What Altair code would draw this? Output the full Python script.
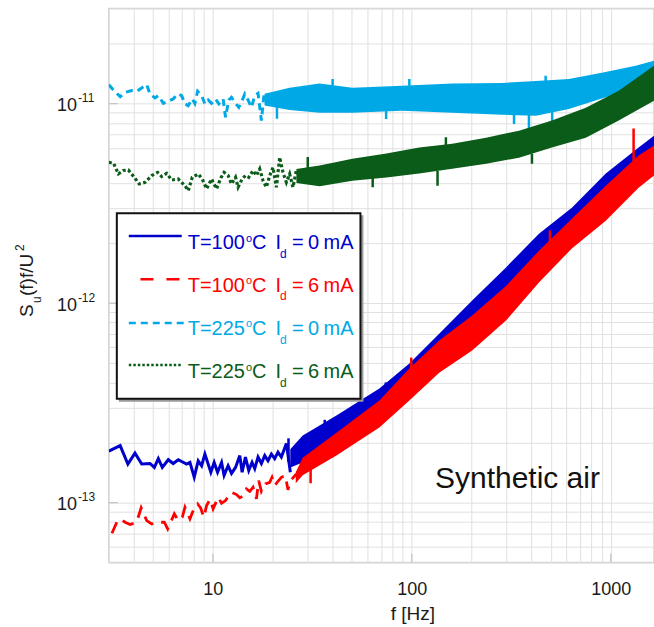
import altair as alt
import pandas as pd

# ---------------- data ----------------
# T=100 C, Id=0 mA  (blue, solid) - low-frequency trace
blue_f = [3.0, 3.42, 3.74, 4.06, 4.39, 4.83, 5.08, 5.32, 5.57, 5.97, 6.32, 6.70, 7.38, 7.67,
          8.06, 8.44, 8.78, 9.12, 9.77, 10.15, 10.56, 11.06, 11.39, 11.93, 12.41, 13.0, 13.66,
          14.03, 14.58, 15.15, 15.74, 16.24, 16.87, 17.54, 18.23, 18.93, 19.69, 20.46, 21.25,
          22.10, 23.42, 24.52]
blue_v = [1.81e-13, 1.93e-13, 1.56e-13, 1.77e-13, 1.56e-13, 1.57e-13, 1.50e-13, 1.66e-13,
          1.50e-13, 1.64e-13, 1.57e-13, 1.64e-13, 1.56e-13, 1.59e-13, 1.34e-13, 1.62e-13,
          1.53e-13, 1.75e-13, 1.42e-13, 1.59e-13, 1.42e-13, 1.59e-13, 1.37e-13, 1.53e-13,
          1.40e-13, 1.50e-13, 1.72e-13, 1.42e-13, 1.69e-13, 1.45e-13, 1.59e-13, 1.48e-13,
          1.69e-13, 1.57e-13, 1.72e-13, 1.62e-13, 1.75e-13, 1.66e-13, 1.79e-13, 1.69e-13,
          1.98e-13, 1.42e-13]
# dense (high-frequency) part: lower / upper envelope
blue_band_f = [24.5, 28.3, 41.8, 68.7, 97.2, 137.3, 201.1, 297.6, 435.7, 637.6, 944.2, 1381, 1650]
blue_band_lo = [1.50e-13, 1.59e-13, 2.05e-13, 2.83e-13, 3.44e-13, 4.59e-13, 6.64e-13, 9.94e-13,
                1.455e-12, 2.06e-12, 2.91e-12, 4.11e-12, 4.89e-12]
blue_band_hi = [1.85e-13, 2.17e-13, 2.73e-13, 3.73e-13, 4.98e-13, 7.03e-13, 1.03e-12, 1.51e-12,
                2.23e-12, 3.01e-12, 4.46e-12, 6.02e-12, 6.91e-12]
blue_spike_f = [24.0, 36.5, 52.0, 74.0]
blue_spike_top = [2.1e-13, 2.6e-13, 3.1e-13, 4.0e-13]
blue_spike_base = [1.6e-13, 2.2e-13, 2.6e-13, 3.4e-13]

# T=100 C, Id=6 mA  (red, long dash)
red_f = [3.11, 3.29, 3.42, 3.62, 3.84, 4.14, 4.36, 4.65, 4.93, 5.32, 5.70, 5.93, 6.40, 6.70,
         7.02, 7.24, 7.67, 7.97, 8.38, 8.68, 9.01, 9.30, 9.69, 10.03, 10.63, 11.06, 11.58,
         12.03, 12.41, 13.15, 13.66, 14.19, 14.75, 15.33, 15.92, 16.56, 17.0, 17.54, 18.37,
         19.31, 19.83, 20.46, 21.25, 22.10, 23.14, 23.85, 24.52, 25.27, 26.28]
red_v = [7.02e-14, 7.97e-14, 8.29e-14, 7.97e-14, 7.76e-14, 7.97e-14, 9.41e-14, 8.12e-14,
         7.82e-14, 7.97e-14, 7.97e-14, 7.38e-14, 8.78e-14, 8.12e-14, 8.44e-14, 9.47e-14,
         8.29e-14, 9.12e-14, 9.85e-14, 9.41e-14, 8.44e-14, 9.66e-14, 1.039e-13, 9.30e-14,
         1.063e-13, 9.92e-14, 1.023e-13, 1.084e-13, 1.126e-13, 1.097e-13, 1.056e-13, 1.080e-13,
         1.171e-13, 1.139e-13, 1.193e-13, 1.044e-13, 1.289e-13, 1.139e-13, 1.241e-13, 1.264e-13,
         1.339e-13, 1.217e-13, 1.279e-13, 1.339e-13, 1.366e-13, 1.158e-13, 1.289e-13, 1.330e-13,
         1.393e-13]
red_band_f = [26.1, 28.3, 41.8, 68.7, 97.2, 137.3, 201.1, 297.6, 435.7, 637.6, 944.2, 1381, 1650]
red_band_lo = [1.25e-13, 1.37e-13, 1.72e-13, 2.38e-13, 3.25e-13, 4.48e-13, 5.78e-13, 8.17e-13,
               1.27e-12, 1.88e-12, 2.59e-12, 3.79e-12, 4.36e-12]
red_band_hi = [1.42e-13, 1.68e-13, 2.24e-13, 3.25e-13, 4.70e-13, 6.49e-13, 8.66e-13, 1.22e-12,
               1.83e-12, 2.65e-12, 3.88e-12, 5.49e-12, 6.16e-12]
red_spike_f = [99.4, 494.8, 1303, 31.0, 60.0]
red_spike_top = [5.33e-13, 2.31e-12, 7.5e-12, 1.25e-13, 2.3e-13]
red_spike_base = [4.0e-13, 1.6e-12, 4.5e-12, 1.6e-13, 2.8e-13]

# T=225 C, Id=0 mA  (light blue, short dash)
cyan_f = [3.0, 3.13, 3.42, 3.62, 3.91, 4.14, 4.39, 4.65, 4.83, 5.12, 5.32, 5.64, 5.97, 6.32,
          6.65, 6.97, 7.24, 7.52, 7.88, 8.12, 8.38, 8.78, 9.12, 9.47, 9.85, 10.31, 10.72,
          11.26, 11.58, 12.03, 12.41, 13.0, 13.5, 14.03, 14.47, 15.03, 15.63, 16.24, 16.87,
          17.54, 18.08]
cyan_v = [1.245e-11, 1.185e-11, 1.084e-11, 1.139e-11, 1.162e-11, 1.153e-11, 1.199e-11, 1.245e-11,
          1.118e-11, 1.068e-11, 1.097e-11, 1.003e-11, 1.027e-11, 1.056e-11, 1.118e-11, 1.097e-11,
          9.97e-12, 9.77e-12, 1.056e-11, 1.003e-11, 1.153e-11, 1.097e-11, 9.97e-12, 1.043e-11,
          1.003e-11, 1.056e-11, 9.97e-12, 1.056e-11, 8.54e-12, 1.043e-11, 1.075e-11, 1.003e-11,
          9.58e-12, 1.035e-11, 1.118e-11, 1.043e-11, 9.58e-12, 1.097e-11, 1.126e-11, 8.22e-12,
          1.118e-11]
cyan_band_f = [18.2, 24.3, 34.4, 50.3, 89.6, 159.6, 284.2, 420.9, 615.9, 901.6, 1334, 1650]
cyan_band_lo = [9.8e-12, 9.3e-12, 9.0e-12, 9.0e-12, 9.2e-12, 9.0e-12, 8.8e-12, 8.7e-12,
                9.4e-12, 1.06e-11, 1.20e-11, 1.33e-11]
cyan_band_hi = [1.12e-11, 1.20e-11, 1.26e-11, 1.20e-11, 1.23e-11, 1.26e-11, 1.27e-11, 1.30e-11,
                1.33e-11, 1.43e-11, 1.55e-11, 1.64e-11]
cyan_spike_f = [74.3, 326.5, 388, 507.7, 97.2, 470.7, 21.0, 40.0]
cyan_spike_top = [8.38e-12, 7.91e-12, 7.47e-12, 8.06e-12, 1.33e-11, 1.38e-11, 8.4e-12, 1.33e-11]
cyan_spike_base = [9.5e-12, 9.3e-12, 9.3e-12, 9.5e-12, 1.15e-11, 1.2e-11, 9.8e-12, 1.15e-11]

# T=225 C, Id=6 mA  (dark green, dotted)
green_f = [3.0, 3.17, 3.35, 3.55, 3.76, 4.03, 4.26, 4.56, 4.93, 5.28, 5.53, 5.86, 6.21, 6.70,
           7.24, 7.52, 7.88, 8.44, 8.84, 9.30, 9.85, 10.43, 10.97, 11.39, 11.93, 12.41, 13.0,
           13.39, 14.03, 14.58, 15.15, 15.92, 16.56, 17.2, 17.87, 18.58, 19.31, 20.06, 20.86,
           21.67, 22.52, 23.42, 24.32, 25.27, 26.28]
green_v = [5.08e-12, 5.02e-12, 4.44e-12, 4.62e-12, 4.65e-12, 4.27e-12, 3.96e-12, 4.03e-12,
           4.36e-12, 4.52e-12, 4.31e-12, 4.47e-12, 4.14e-12, 4.19e-12, 3.88e-12, 3.66e-12,
           4.27e-12, 4.44e-12, 4.19e-12, 3.74e-12, 4.19e-12, 3.74e-12, 4.24e-12, 4.52e-12,
           4.36e-12, 3.96e-12, 4.27e-12, 3.81e-12, 4.19e-12, 4.36e-12, 4.27e-12, 4.62e-12,
           4.36e-12, 4.71e-12, 4.11e-12, 3.81e-12, 4.36e-12, 4.79e-12, 3.81e-12, 5.38e-12,
           4.52e-12, 4.03e-12, 4.44e-12, 3.81e-12, 4.62e-12]
green_band_f = [26.3, 34.4, 50.3, 74.5, 109.0, 159.6, 236.3, 345.8, 506.1, 749.3, 1097, 1650]
green_band_lo = [4.0e-12, 3.85e-12, 4.11e-12, 4.26e-12, 4.46e-12, 4.72e-12, 5.00e-12, 5.36e-12,
                 6.02e-12, 6.75e-12, 8.22e-12, 1.035e-11]
green_band_hi = [4.7e-12, 4.89e-12, 5.30e-12, 5.62e-12, 6.02e-12, 6.30e-12, 6.75e-12, 7.32e-12,
                 8.22e-12, 9.55e-12, 1.162e-11, 1.55e-11]
green_spike_f = [148.4, 134.7, 63.6, 401.8, 30.0]
green_spike_top = [6.78e-12, 3.88e-12, 3.81e-12, 5.0e-12, 5.4e-12]
green_spike_base = [5.8e-12, 4.6e-12, 4.3e-12, 5.6e-12, 4.6e-12]

# axis / text
y_tick_values = [1e-11, 1e-12, 1e-13]
y_tick_base = ["10", "10", "10"]
y_tick_exp = ["-11", "-12", "-13"]
x_label_values = [10, 100, 1000]
legend_temp = ["T=100", "T=100", "T=225", "T=225"]
legend_current = ["0", "6", "0", "6"]
annotation_text = "Synthetic air"
annotation_f = 131
annotation_v = 1.19e-13

# ---------------- styling ----------------
FONT = "Liberation Sans"
C_BLUE = "#0000CC"
C_RED = "#FF0000"
C_CYAN = "#00A9E6"
C_GREEN = "#0A5C18"
COLORS = [C_BLUE, C_RED, C_CYAN, C_GREEN]
W, H = 546, 555
GRID = "#e0e0e0"

xs = alt.Scale(type="log", domain=[3, 1650])
ys = alt.Scale(type="log", domain=[5e-14, 3e-11])

x_grid = [k * 10 ** e for e in range(0, 4) for k in range(1, 10) if 3 <= k * 10 ** e <= 1000]
y_grid = []
for e in (-14, -13, -12, -11):
    for k in range(1, 10):
        val = float(f"{k}e{e}")
        if 5e-14 * 0.999 <= val <= 3e-11 * 1.001:
            y_grid.append(val)

x_axis = alt.Axis(values=x_grid, format="d",
                  labelExpr="indexof([10,100,1000], datum.value) >= 0 ? datum.label : ''",
                  labelOverlap=False, grid=True, gridColor=GRID, gridWidth=1,
                  ticks=False, domain=False, labelFontSize=18, labelFont=FONT,
                  labelColor="#1a1a1a", labelPadding=18,
                  title="f [Hz]", titleFont=FONT, titleFontSize=19, titleFontWeight="normal",
                  titleColor="#1a1a1a", titleX=304, titleY=57, titleBaseline="alphabetic")
y_axis = alt.Axis(values=y_grid, labels=False, ticks=False, domain=False, grid=True,
                  gridColor=GRID, gridWidth=1, title=None)


def xenc(field="f"):
    return alt.X(f"{field}:Q", scale=xs, axis=x_axis)


def yenc(field="v"):
    return alt.Y(f"{field}:Q", scale=ys, axis=y_axis)


def line_layer(f, v, color, dash, width):
    df = pd.DataFrame({"f": f, "v": v})
    kw = dict(color=color, strokeWidth=width, clip=True, interpolate="linear")
    if dash:
        kw["strokeDash"] = dash
    return alt.Chart(df).mark_line(**kw).encode(x=xenc(), y=yenc())


def band_layer(f, lo, hi, color):
    df = pd.DataFrame({"f": f, "lo": lo, "hi": hi})
    return alt.Chart(df).mark_area(color=color, opacity=1, clip=True).encode(
        x=xenc(), y=yenc("hi"), y2="lo:Q")


def spike_layer(f, top, base, color):
    df = pd.DataFrame({"f": f, "top": top, "base": base})
    return alt.Chart(df).mark_rule(color=color, strokeWidth=2.5, clip=True).encode(
        x=xenc(), y=yenc("top"), y2="base:Q")


one = pd.DataFrame({"k": [0]})


def ptext(txt, x, y, size, color="#1a1a1a", align="left", angle=None):
    kw = dict(text=txt, font=FONT, fontSize=size, color=color, align=align,
              baseline="alphabetic")
    if angle is not None:
        kw["angle"] = angle
    return alt.Chart(one).mark_text(**kw).encode(x=alt.value(x), y=alt.value(y))


def prule(x1, x2, y, color, dash=None, width=2.5):
    kw = dict(color=color, strokeWidth=width)
    if dash:
        kw["strokeDash"] = dash
    return alt.Chart(one).mark_rule(**kw).encode(
        x=alt.value(x1), x2=alt.value(x2), y=alt.value(y))


layers = [
    line_layer(blue_f, blue_v, C_BLUE, None, 3),
    band_layer(blue_band_f, blue_band_lo, blue_band_hi, C_BLUE),
    spike_layer(blue_spike_f, blue_spike_top, blue_spike_base, C_BLUE),
    line_layer(red_f, red_v, C_RED, [12, 8], 2.8),
    band_layer(red_band_f, red_band_lo, red_band_hi, C_RED),
    spike_layer(red_spike_f, red_spike_top, red_spike_base, C_RED),
    line_layer(cyan_f, cyan_v, C_CYAN, [7, 5], 3),
    band_layer(cyan_band_f, cyan_band_lo, cyan_band_hi, C_CYAN),
    spike_layer(cyan_spike_f, cyan_spike_top, cyan_spike_base, C_CYAN),
    line_layer(green_f, green_v, C_GREEN, [3, 2.5], 3.2),
    band_layer(green_band_f, green_band_lo, green_band_hi, C_GREEN),
    spike_layer(green_spike_f, green_spike_top, green_spike_base, C_GREEN),
]

# inward major ticks
xt = pd.DataFrame({"f": x_label_values})
layers.append(alt.Chart(xt).mark_rule(color="#c4c4c4", strokeWidth=1.2).encode(
    x=xenc(), y=alt.value(H - 9), y2=alt.value(H)))
yt = pd.DataFrame({"v": y_tick_values})
layers.append(alt.Chart(yt).mark_rule(color="#c4c4c4", strokeWidth=1.2).encode(
    y=yenc(), x=alt.value(0), x2=alt.value(9)))

# y tick labels 10^n
ylab = pd.DataFrame({"v": y_tick_values, "b": y_tick_base, "e": y_tick_exp})
layers.append(alt.Chart(ylab).mark_text(font=FONT, fontSize=18, color="#1a1a1a", align="right",
                                        baseline="alphabetic", dy=7.5).encode(
    x=alt.value(-32), y=yenc(), text="b:N"))
layers.append(alt.Chart(ylab).mark_text(font=FONT, fontSize=12, color="#1a1a1a", align="left",
                                        baseline="alphabetic", dy=-1.5).encode(
    x=alt.value(-31), y=yenc(), text="e:N"))

# y title  S_u(f)f/U^2
layers += [
    ptext("S", -76, 309, 19, angle=270),
    ptext("u", -68, 295, 12, angle=270),
    ptext("(f)f/U", -76, 288, 19, angle=270),
    ptext("2", -85, 243, 12, angle=270),
]

# annotation
ann = pd.DataFrame({"f": [annotation_f], "v": [annotation_v]})
layers.append(alt.Chart(ann).mark_text(text=annotation_text, font=FONT, fontSize=30,
                                       color="#111111", align="left",
                                       baseline="alphabetic").encode(x=xenc(), y=yenc()))

# legend box
layers.append(alt.Chart(one).mark_rect(fill="#9a9a9a").encode(
    x=alt.value(10), x2=alt.value(255), y=alt.value(207), y2=alt.value(394)))
layers.append(alt.Chart(one).mark_rect(fill="white", stroke="#111111", strokeWidth=2).encode(
    x=alt.value(8), x2=alt.value(252), y=alt.value(205), y2=alt.value(391)))

sample_y = [228, 271.3, 315, 357]
text_base = [241.3, 283.7, 327, 370.3]
layers.append(prule(20, 73, sample_y[0], C_BLUE))
layers.append(prule(31.7, 72, sample_y[1], C_RED, [13, 13]))
layers.append(prule(20, 75, sample_y[2], C_CYAN, [7, 5]))
layers.append(prule(20, 72, sample_y[3], C_GREEN, [2.5, 2]))
for i in range(4):
    c = COLORS[i]
    b = text_base[i]
    layers += [
        ptext(legend_temp[i], 79, b, 20, c),
        ptext("o", 137.5, b - 7.6, 11, c),
        ptext("C", 143.5, b, 20, c),
        ptext("I", 167, b, 20, c),
        ptext("d", 171.5, b + 8.7, 12, c),
        ptext("=", 183.5, b, 20, c),
        ptext(legend_current[i], 199.5, b, 20, c),
        ptext("mA", 215, b, 20, c),
    ]

chart = alt.layer(*layers).properties(
    width=W, height=H,
    padding={"left": 109, "top": 8, "right": 0, "bottom": 64},
    autosize=alt.AutoSizeParams(type="none"),
).configure(font=FONT).configure_view(stroke="#d2d2d2", strokeWidth=1.5)

chart.save("out.html", embed_options={"renderer": "svg", "actions": False})
